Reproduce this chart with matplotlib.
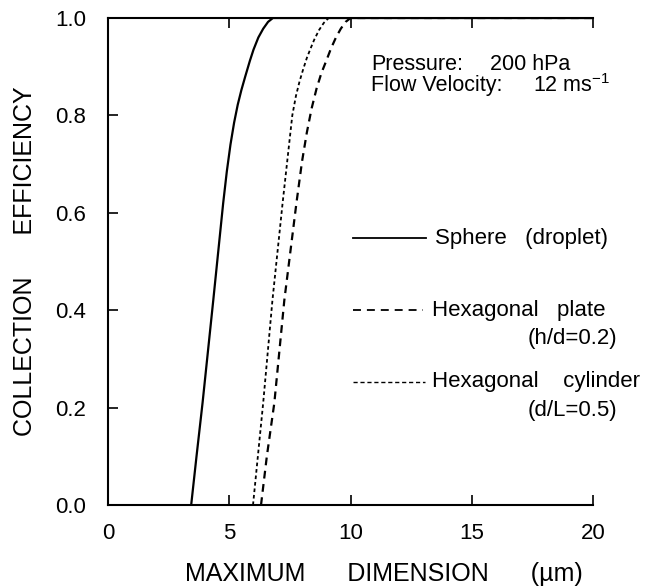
import matplotlib
matplotlib.use("Agg")
import matplotlib.pyplot as plt

plt.rcParams['font.family'] = ['Liberation Sans', 'DejaVu Sans']
plt.rcParams['mathtext.fontset'] = 'custom'
plt.rcParams['mathtext.rm'] = 'Liberation Sans'
plt.rcParams['mathtext.it'] = 'Liberation Sans'

# curves: maximum dimension (um) vs collection efficiency
sphereX = [3.43, 3.65, 3.9, 4.34, 4.75, 4.9, 5.05, 5.2, 5.35, 5.5, 5.66, 5.85, 6.0, 6.2, 6.4, 6.6, 6.8, 20]
sphereY = [0.0, 0.1, 0.21, 0.42, 0.62, 0.685, 0.74, 0.785, 0.822, 0.852, 0.88, 0.912, 0.935, 0.96, 0.978, 0.992, 1.0, 1.0]
cylX = [5.98, 6.2, 6.4, 6.78, 7.2, 7.6, 7.75, 7.9, 8.05, 8.2, 8.35, 8.5, 8.7, 8.9, 9.1, 20]
cylY = [0.0, 0.11, 0.21, 0.42, 0.62, 0.8, 0.84, 0.87, 0.895, 0.918, 0.937, 0.955, 0.975, 0.99, 1.0, 1.0]
plateX = [6.31, 6.55, 6.86, 7.27, 7.77, 8.0, 8.2, 8.4, 8.6, 8.8, 9.0, 9.2, 9.4, 9.6, 9.8, 10.0, 20]
plateY = [0.0, 0.1, 0.21, 0.42, 0.62, 0.705, 0.765, 0.815, 0.855, 0.887, 0.912, 0.938, 0.96, 0.978, 0.992, 1.0, 1.0]

xTicks = [0, 5, 10, 15, 20]
yTicks = [0.0, 0.2, 0.4, 0.6, 0.8, 1.0]

plateDash = (0, (3.5, 2.5))
cylDash = (0, (2, 1.6))

fig = plt.figure(figsize=(6.52, 5.86), dpi=100)
ax = fig.add_axes([108/652, 1 - 505/586, 485/652, 487/586])

ax.plot(sphereX, sphereY, color='black', lw=1.6, ls='-')
ax.plot(plateX, plateY, color='black', lw=1.6, ls=plateDash)
ax.plot(cylX, cylY, color='black', lw=1.3, ls=cylDash)

ax.set_xlim(0, 20)
ax.set_ylim(0, 1)
ax.set_xticks(xTicks)
ax.set_xticklabels([str(t) for t in xTicks])
ax.set_yticks(yTicks)
ax.set_yticklabels([f"{t:.1f}" for t in yTicks])
ax.spines['right'].set_visible(False)
for s in ['left', 'bottom', 'top']:
    ax.spines[s].set_linewidth(1.5)
ax.tick_params(direction='in', length=7, width=1.2, labelsize=16, top=True, right=False)
ax.tick_params(axis='x', pad=13)
ax.tick_params(axis='y', pad=16)

ax.set_xlabel("MAXIMUM      DIMENSION      (\u00b5m)", fontsize=18)
ax.xaxis.set_label_coords(0.569, -0.117)
ax.set_ylabel("COLLECTION      EFFICIENCY", fontsize=18)
ax.yaxis.set_label_coords(-0.146, 0.5)

# annotations
ax.text(10.85, 0.9035, "Pressure:", fontsize=15.5, va='center')
ax.text(15.75, 0.9035, "200 hPa", fontsize=15.5, va='center')
ax.text(10.85, 0.862, "Flow Velocity:", fontsize=15.5, va='center')
ax.text(17.53, 0.862, "12 ms$^{-1}$", fontsize=15.5, va='center')

# hand-drawn legend
ax.plot([10.1, 13.1], [0.548, 0.548], color='black', lw=1.3, ls='-', clip_on=False)
ax.text(13.48, 0.548, "Sphere   (droplet)", fontsize=16, va='center')
ax.plot([10.1, 13.0], [0.40, 0.40], color='black', lw=1.3, ls=(0, (4.4, 3.3)), clip_on=False)
ax.text(13.36, 0.40, "Hexagonal   plate", fontsize=16, va='center')
ax.text(21.0, 0.341, "(h/d=0.2)", fontsize=16, va='center', ha='right')
ax.plot([10.1, 13.07], [0.2526, 0.2526], color='black', lw=1.0, ls=(0, (3, 2)), clip_on=False)
ax.text(13.36, 0.2526, "Hexagonal    cylinder", fontsize=16, va='center')
ax.text(21.0, 0.195, "(d/L=0.5)", fontsize=16, va='center', ha='right')

fig.savefig("out.png", dpi=100)
